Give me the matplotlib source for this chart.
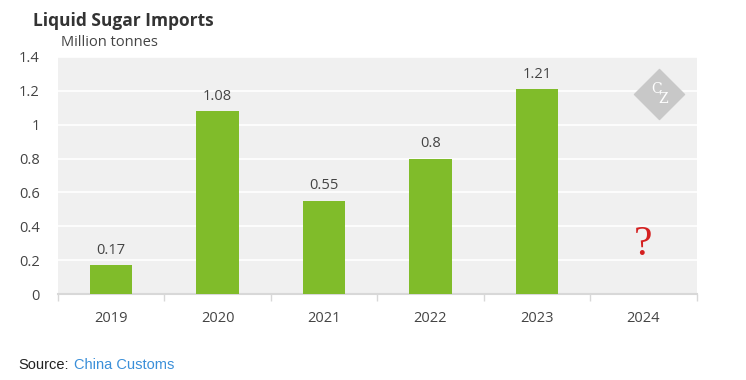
import matplotlib.pyplot as plt
import numpy as np

years = ["2019", "2020", "2021", "2022", "2023", "2024"]
imports = [0.17, 1.08, 0.55, 0.8, 1.21, np.nan]
labels = ["0.17", "1.08", "0.55", "0.8", "1.21", ""]
yticks = [0, 0.2, 0.4, 0.6, 0.8, 1, 1.2, 1.4]
ytick_labels = ["0", "0.2", "0.4", "0.6", "0.8", "1", "1.2", "1.4"]

plt.rcParams['font.family'] = ['Open Sans', 'DejaVu Sans']

fig = plt.figure(figsize=(7.46, 3.8), dpi=100)
ax = fig.add_axes([0.0777, 0.226, 0.856, 0.624])
ax.set_facecolor('#f0f0f0')

x = np.arange(len(years))
vals = np.nan_to_num(imports)
ax.bar(x, vals, width=0.4, color='#80bc2a', zorder=3)
for xi, v, lab in zip(x, vals, labels):
    if lab:
        ax.text(xi, v + 0.045, lab, ha='center', va='bottom', fontsize=10.5, color='#444444')

# 2024 has no data yet
ax.text(5, 0.29, "?", ha='center', va='center', fontsize=30, color='#d42020',
        family='Liberation Serif', zorder=4)

ax.set_xlim(-0.5, 5.5)
ax.set_ylim(0, 1.4)
ax.set_yticks(yticks)
ax.set_yticklabels(ytick_labels)
ax.set_xticks(x)
ax.set_xticklabels(years)
ax.set_xticks(np.arange(-0.5, 6, 1), minor=True)
ax.tick_params(axis='x', which='major', length=0, pad=12, labelsize=10.5, labelcolor='#444444')
ax.tick_params(axis='x', which='minor', length=5, color='#d8d8d8', width=1)
ax.tick_params(axis='y', length=0, pad=13, labelsize=10.5, labelcolor='#444444')
ax.grid(axis='y', color='white', linewidth=1.2, zorder=1)
ax.set_axisbelow(True)
for s in ['top', 'right', 'left']:
    ax.spines[s].set_visible(False)
ax.spines['bottom'].set_color('#d8d8d8')
ax.spines['bottom'].set_linewidth(1.5)

# watermark
ax.scatter([5.15], [1.18], marker='D', s=650, color='#c8c8c8', zorder=2)
ax.text(5.12, 1.21, "C", ha='center', va='center', fontsize=10, color='white',
        family='DejaVu Serif', zorder=3)
ax.text(5.19, 1.15, "Z", ha='center', va='center', fontsize=10, color='white',
        family='DejaVu Serif', zorder=3)

fig.text(0.044, 0.945, "Liquid Sugar Imports", fontsize=12.5, fontweight='bold', color='#333333',
         va='center')
fig.text(0.082, 0.888, "Million tonnes", fontsize=10.5, color='#444444', va='center')
fig.text(0.024, 0.04, "Source:", fontsize=10.5, color='#222222', family='Liberation Sans', va='center')
fig.text(0.099, 0.04, "China Customs", fontsize=10.5, color='#3a8fd9', family='Liberation Sans', va='center')

fig.savefig('out.png', dpi=100)
